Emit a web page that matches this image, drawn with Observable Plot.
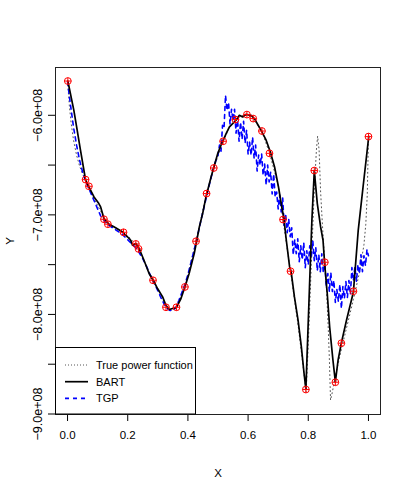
<!DOCTYPE html>
<html>
<head>
<meta charset="utf-8">
<script src="https://cdn.jsdelivr.net/npm/d3@7"></script>
<script src="https://cdn.jsdelivr.net/npm/@observablehq/plot@0.6"></script>
<style>
  html, body { margin: 0; padding: 0; background: #fff; }
  #chart svg { display: block; }
</style>
</head>
<body>
<div id="chart"></div>
<script>
// Axis ticks
const xTicks = [0, 0.2, 0.4, 0.6, 0.8, 1.0];
const yTicks = [-9.0e8, -8.5e8, -8.0e8, -7.5e8, -7.0e8, -6.5e8, -6.0e8];
const yLabelTicks = [-9.0e8, -8.0e8, -7.0e8, -6.0e8];

// Observed data (red points)
const obsX = [0.001, 0.060, 0.071, 0.121, 0.134, 0.186, 0.227, 0.236, 0.284, 0.327,
              0.362, 0.390, 0.427, 0.462, 0.486, 0.517, 0.558, 0.596, 0.617, 0.646,
              0.671, 0.716, 0.741, 0.792, 0.820, 0.855, 0.890, 0.910, 0.950, 1.000];
const obsY = [-5.656e8, -6.646e8, -6.713e8, -7.044e8, -7.094e8, -7.175e8, -7.292e8, -7.342e8, -7.657e8, -7.928e8,
              -7.928e8, -7.724e8, -7.265e8, -6.786e8, -6.529e8, -6.261e8, -6.043e8, -5.993e8, -6.033e8, -6.158e8,
              -6.382e8, -7.047e8, -7.566e8, -8.754e8, -6.555e8, -7.476e8, -8.681e8, -8.289e8, -7.767e8, -6.214e8];

// True power function (gray dotted)
const trueX = [0.000, 0.006, 0.012, 0.020, 0.030, 0.040, 0.050, 0.060, 0.071, 0.090,
               0.110, 0.121, 0.140, 0.160, 0.186, 0.210, 0.236, 0.260, 0.284, 0.310,
               0.327, 0.345, 0.362, 0.390, 0.427, 0.462, 0.486, 0.517, 0.540, 0.558,
               0.580, 0.596, 0.617, 0.646, 0.671, 0.700, 0.716, 0.741, 0.765, 0.780,
               0.793, 0.800, 0.810, 0.820, 0.827, 0.831, 0.836, 0.841, 0.847, 0.854,
               0.861, 0.866, 0.870, 0.874, 0.880, 0.890, 0.910, 0.930, 0.950, 0.970,
               0.985, 0.991, 0.996, 1.000];
const trueY = [-5.656e8, -5.90e8, -6.08e8, -6.25e8, -6.40e8, -6.51e8, -6.59e8, -6.65e8, -6.72e8, -6.85e8,
               -6.96e8, -7.04e8, -7.10e8, -7.13e8, -7.175e8, -7.24e8, -7.34e8, -7.50e8, -7.657e8, -7.80e8,
               -7.92e8, -7.955e8, -7.93e8, -7.724e8, -7.265e8, -6.79e8, -6.53e8, -6.26e8, -6.11e8, -6.045e8,
               -6.005e8, -5.995e8, -6.035e8, -6.16e8, -6.38e8, -6.70e8, -7.05e8, -7.57e8, -8.08e8, -8.45e8,
               -8.78e8, -8.30e8, -7.50e8, -6.75e8, -6.35e8, -6.21e8, -6.35e8, -6.77e8, -7.10e8, -7.44e8,
               -7.77e8, -8.11e8, -8.44e8, -8.86e8, -8.78e8, -8.62e8, -8.35e8, -8.10e8, -7.85e8, -7.58e8,
               -7.30e8, -7.10e8, -6.80e8, -6.21e8];

// BART fit (black solid)
const bartX = [0.001, 0.021, 0.032, 0.043, 0.060, 0.071, 0.088, 0.104, 0.110, 0.121,
               0.138, 0.154, 0.182, 0.199, 0.210, 0.216, 0.227, 0.238, 0.254, 0.271,
               0.286, 0.299, 0.316, 0.327, 0.338, 0.349, 0.362, 0.377, 0.390, 0.404,
               0.421, 0.429, 0.438, 0.449, 0.460, 0.477, 0.488, 0.499, 0.510, 0.527,
               0.538, 0.560, 0.571, 0.582, 0.593, 0.610, 0.621, 0.643, 0.660, 0.674,
               0.688, 0.701, 0.712, 0.719, 0.727, 0.738, 0.743, 0.754, 0.766, 0.777,
               0.786, 0.792, 0.804, 0.812, 0.819, 0.820, 0.830, 0.841, 0.849, 0.854,
               0.863, 0.871, 0.882, 0.890, 0.899, 0.910, 0.927, 0.950, 0.966, 0.982, 1.001];
const bartY = [-5.656e8, -5.95e8, -6.15e8, -6.35e8, -6.65e8, -6.72e8, -6.82e8, -6.887e8, -6.92e8, -7.037e8,
               -7.094e8, -7.12e8, -7.17e8, -7.22e8, -7.255e8, -7.305e8, -7.288e8, -7.338e8, -7.456e8, -7.589e8,
               -7.664e8, -7.74e8, -7.824e8, -7.908e8, -7.951e8, -7.941e8, -7.93e8, -7.84e8, -7.724e8, -7.589e8,
               -7.389e8, -7.265e8, -7.121e8, -6.987e8, -6.82e8, -6.619e8, -6.502e8, -6.385e8, -6.301e8, -6.184e8,
               -6.117e8, -6.05e8, -6.00e8, -6.017e8, -5.99e8, -6.00e8, -6.033e8, -6.15e8, -6.25e8, -6.368e8,
               -6.519e8, -6.72e8, -6.921e8, -7.037e8, -7.255e8, -7.523e8, -7.57e8, -7.824e8, -8.058e8, -8.326e8,
               -8.593e8, -8.75e8, -7.724e8, -7.054e8, -6.619e8, -6.555e8, -6.887e8, -7.121e8, -7.255e8, -7.473e8,
               -7.79e8, -8.125e8, -8.46e8, -8.678e8, -8.46e8, -8.286e8, -8.058e8, -7.774e8, -7.155e8, -6.72e8, -6.211e8];

// TGP fit (blue dashed)
const tgpX = [0.00, 0.01, 0.02, 0.03, 0.04, 0.05, 0.06, 0.07, 0.08, 0.09,
              0.10, 0.11, 0.12, 0.13, 0.14, 0.15, 0.16, 0.17, 0.18, 0.19,
              0.20, 0.21, 0.22, 0.23, 0.24, 0.25, 0.26, 0.27, 0.28, 0.29,
              0.30, 0.31, 0.32, 0.33, 0.34, 0.35, 0.36, 0.37, 0.38, 0.39,
              0.40, 0.41, 0.42, 0.43, 0.44, 0.45, 0.46, 0.47, 0.48, 0.49,
              0.500, 0.505, 0.510, 0.515, 0.520, 0.525, 0.530, 0.535, 0.540, 0.545,
              0.550, 0.555, 0.560, 0.565, 0.570, 0.575, 0.580, 0.585, 0.590, 0.595,
              0.600, 0.605, 0.610, 0.615, 0.620, 0.625, 0.630, 0.635, 0.640, 0.645,
              0.650, 0.655, 0.660, 0.665, 0.670, 0.675, 0.680, 0.685, 0.690, 0.695,
              0.700, 0.705, 0.710, 0.715, 0.720, 0.725, 0.730, 0.735, 0.740, 0.745,
              0.750, 0.755, 0.760, 0.765, 0.770, 0.775, 0.780, 0.785, 0.790, 0.795,
              0.800, 0.805, 0.810, 0.815, 0.820, 0.825, 0.830, 0.835, 0.840, 0.845,
              0.850, 0.855, 0.860, 0.865, 0.870, 0.875, 0.880, 0.885, 0.890, 0.895,
              0.900, 0.905, 0.910, 0.915, 0.920, 0.925, 0.930, 0.935, 0.940, 0.945,
              0.950, 0.955, 0.960, 0.965, 0.970, 0.975, 0.980, 0.985, 0.990, 0.995, 1.000];
const tgpY = [-566e6, -590e6, -612e6, -630e6, -645e6, -657e6, -666e6, -673e6, -680e6, -687e6,
              -694e6, -701e6, -705e6, -709e6, -711e6, -713e6, -715e6, -717e6, -719e6, -722e6,
              -725e6, -728e6, -731e6, -734e6, -739e6, -744e6, -750e6, -757e6, -764e6, -770e6,
              -776e6, -783e6, -789e6, -794e6, -796e6, -796e6, -793e6, -786e6, -778e6, -770e6,
              -760e6, -748e6, -736e6, -724e6, -710e6, -697e6, -684e6, -671e6, -659e6, -648e6,
              -640e6, -630e6, -636e6, -610e6, -613e6, -580e6, -595e6, -587e6, -609e6, -594e6,
              -605e6, -594e6, -618e6, -605e6, -626e6, -607e6, -624e6, -606e6, -628e6, -615e6,
              -639e6, -627e6, -640e6, -622e6, -643e6, -630e6, -656e6, -640e6, -650e6, -639e6,
              -660e6, -649e6, -670e6, -650e6, -667e6, -657e6, -679e6, -659e6, -682e6, -677e6,
              -694e6, -680e6, -697e6, -683e6, -711e6, -700e6, -718e6, -704e6, -722e6, -713e6,
              -740e6, -725e6, -739e6, -724e6, -747e6, -731e6, -745e6, -728e6, -753e6, -736e6,
              -750e6, -731e6, -743e6, -726e6, -746e6, -733e6, -756e6, -740e6, -757e6, -739e6,
              -758e6, -749e6, -772e6, -759e6, -777e6, -758e6, -777e6, -766e6, -788e6, -775e6,
              -787e6, -770e6, -794e6, -772e6, -784e6, -767e6, -783e6, -766e6, -780e6, -753e6,
              -766e6, -752e6, -767e6, -750e6, -759e6, -740e6, -757e6, -741e6, -751e6, -735e6, -741e6];

const obs = obsX.map((x, i) => ({x, y: obsY[i]}));
const truth = trueX.map((x, i) => ({x, y: trueY[i]}));
const bart = bartX.map((x, i) => ({x, y: bartY[i]}));
const tgp = tgpX.map((x, i) => ({x, y: tgpY[i]}));

const fmtY = d => (d < 0 ? "\u2212" : "") + (Math.abs(d) / 1e8).toFixed(1) + "e+08";

// circle with plus (R pch = 10)
const circlePlus = {
  draw(context, size) {
    const r = Math.sqrt(size / Math.PI);
    context.moveTo(r, 0);
    context.arc(0, 0, r, 0, 2 * Math.PI);
    context.moveTo(-r, 0); context.lineTo(r, 0);
    context.moveTo(0, -r); context.lineTo(0, r);
  }
};

const font = "'Liberation Sans', Arial, Helvetica, sans-serif";

const chart = Plot.plot({
  width: 408,
  height: 498,
  marginLeft: 55,
  marginRight: 28,
  marginTop: 67,
  marginBottom: 84,
  style: {fontFamily: font, fontSize: "11px", background: "#fff", color: "#000"},
  x: {domain: [-0.04, 1.04]},
  y: {domain: [-9.005e8, -5.52e8]},
  marks: [
    Plot.axisX({ticks: xTicks, tickSize: 7, tickPadding: 9, tickFormat: d3.format(".1f"),
                fontSize: 11.5, label: "X", labelAnchor: "center", labelArrow: "none", labelOffset: 62}),
    Plot.axisY({ticks: yTicks, tickSize: 7, tickFormat: () => "", label: "Y", fontSize: 11.5,
                labelAnchor: "center", labelArrow: "none", labelOffset: 50}),
    Plot.text(yLabelTicks, {y: d => d, text: fmtY, frameAnchor: "left", dx: -18,
                            rotate: -90, textAnchor: "middle", lineAnchor: "middle", fontSize: 12.6}),
    Plot.line(truth, {x: "x", y: "y", stroke: "#555", strokeWidth: 1, strokeDasharray: "1,3"}),
    Plot.line(tgp, {x: "x", y: "y", stroke: "#0000ff", strokeWidth: 1.6, strokeDasharray: "4,4"}),
    Plot.line(bart, {x: "x", y: "y", stroke: "#000", strokeWidth: 1.7}),
    Plot.dot(obs, {x: "x", y: "y", symbol: circlePlus, r: 3.4, stroke: "#ff0000", fill: "none", strokeWidth: 1}),
    Plot.frame({stroke: "#222", strokeWidth: 1})
  ]
});

document.getElementById("chart").appendChild(chart);

// Legend (bottom-left, inside the plot frame)
const svg = d3.select(chart);
const L = 55, B = 414;
const g = svg.append("g").attr("font-family", font).attr("font-size", 11).attr("text-anchor", "start");
g.append("rect").attr("x", L + 0.5).attr("y", 347.5).attr("width", 140).attr("height", B - 347.5)
  .attr("fill", "#fff").attr("stroke", "#000").attr("stroke-width", 1);
const rows = [
  {label: "True power function", stroke: "#555", dash: "1,2", w: 1},
  {label: "BART", stroke: "#000", dash: null, w: 1.7},
  {label: "TGP", stroke: "#0000ff", dash: "4,4", w: 1.6}
];
rows.forEach((r, i) => {
  const cy = 365 + i * 16.7;
  g.append("line").attr("x1", 65).attr("x2", 88).attr("y1", cy).attr("y2", cy)
    .attr("stroke", r.stroke).attr("stroke-width", r.w).attr("stroke-dasharray", r.dash);
  g.append("text").attr("x", 96).attr("y", cy).attr("dy", "0.35em").attr("fill", "#000")
    .attr("text-anchor", "start").text(r.label);
});
</script>
</body>
</html>
